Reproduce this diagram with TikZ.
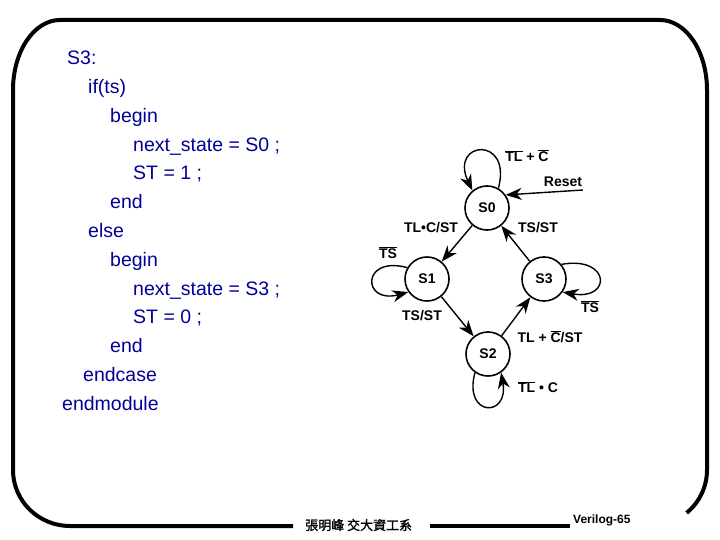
\documentclass[tikz,border=0pt]{standalone}
\usepackage{fontspec}
\setmainfont{Liberation Sans}
\newfontfamily\cjk[FakeBold=1.5]{Noto Sans CJK TC}
\usepackage{xcolor}
\usetikzlibrary{arrows.meta}
\definecolor{codeblue}{RGB}{0,0,150}
\newcommand{\ovl}[1]{$\overline{\mbox{#1}}$}
\tikzset{
  state/.style={circle, draw, line width=1.6pt, minimum size=44pt, inner sep=0pt, font=\bfseries\fontsize{14}{16}\selectfont},
  trans/.style={line width=1.4pt, -{Stealth[length=16pt,width=12pt,inset=5pt]}},
  lbl/.style={inner sep=0pt, font=\bfseries\fontsize{14}{16}\selectfont},
  code/.style={anchor=base west, inner sep=0pt, text=codeblue, font=\fontsize{19.5}{22}\selectfont},
  frame/.style={line width=4pt}
}

\begin{document}
\begin{tikzpicture}[x=1pt,y=1pt]
  \useasboundingbox (0,0) rectangle (720,-540);
  % code lines
  \node[code] (l1) at (67,-65) {S3:};
  \node[code] (l2) at (88,-93.75) {if(ts)};
  \node[code] (l3) at (110,-122.5) {begin};
  \node[code] (l4) at (133,-151.25) {next\_state = S0 ;};
  \node[code] (l5) at (133,-180) {ST = 1 ;};
  \node[code] (l6) at (110,-208.75) {end};
  \node[code] (l7) at (88,-237.5) {else};
  \node[code] (l8) at (110,-266.25) {begin};
  \node[code] (l9) at (133,-295) {next\_state = S3 ;};
  \node[code] (l10) at (133,-323.75) {ST = 0 ;};
  \node[code] (l11) at (110,-352.5) {end};
  \node[code] (l12) at (83,-381.25) {endcase};
  \node[code] (l13) at (62,-410) {endmodule};
  % frame
  \draw[frame] (293,-526) -- (70,-526)
    arc[start angle=270, end angle=180, x radius=57, y radius=56] -- (13,-90)
    arc[start angle=180, end angle=90, x radius=47, y radius=70] -- (660,-20)
    arc[start angle=90, end angle=0, x radius=47, y radius=70] -- (707,-470)
    arc[start angle=0, end angle=-50, x radius=57, y radius=56];
  \draw[frame] (430,-526) -- (570,-526);
  % footer
  \node[anchor=base west, inner sep=0pt, font=\cjk\fontsize{13}{15}\selectfont] (author) at (305,-530) {張明峰 交大資工系};
  \node[anchor=base west, inner sep=0pt, font=\bfseries\fontsize{12}{14}\selectfont] (page) at (573,-523) {Verilog-65};
  % states
  \node[state] (S0) at (487,-208) {S0};
  \node[state] (S1) at (427,-279) {S1};
  \node[state] (S3) at (544,-279) {S3};
  \node[state] (S2) at (488,-354) {S2};
  \coordinate (R) at (583,-190);
  % transitions
  \draw[trans] (R) -- (S0.35);
  \draw[trans] (S0.60) .. controls +(75:55) and +(115:55) .. (S0.130);
  \draw[trans] (S0) -- (S1);
  \draw[trans] (S3) -- (S0);
  \draw[trans] (S1.150) .. controls +(165:48) and +(195:48) .. (S1.215);
  \draw[trans] (S1) -- (S2);
  \draw[trans] (S2) -- (S3);
  \draw[trans] (S3.40) .. controls +(10:50) and +(-10:50) .. (S3.-35);
  \draw[trans] (S2.235) .. controls +(255:46) and +(-80:46) .. (S2.-55);
  % labels
  \node[lbl] (tlc) at (527,-156) {\ovl{TL} + \ovl{C}};
  \node[lbl] (rst) at (563,-182) {Reset};
  \node[lbl] (tlcst) at (431,-228) {TL•C/ST};
  \node[lbl] (tsst1) at (538,-228) {TS/ST};
  \node[lbl] (nts1) at (388,-253) {\ovl{TS}};
  \node[lbl] (tsst2) at (422,-316) {TS/ST};
  \node[lbl] (tlcst2) at (550,-337) {TL + \ovl{C}/ST};
  \node[lbl] (nts3) at (590,-307) {\ovl{TS}};
  \node[lbl] (ntlc) at (538,-387) {\ovl{TL} • C};
\end{tikzpicture}
\end{document}
